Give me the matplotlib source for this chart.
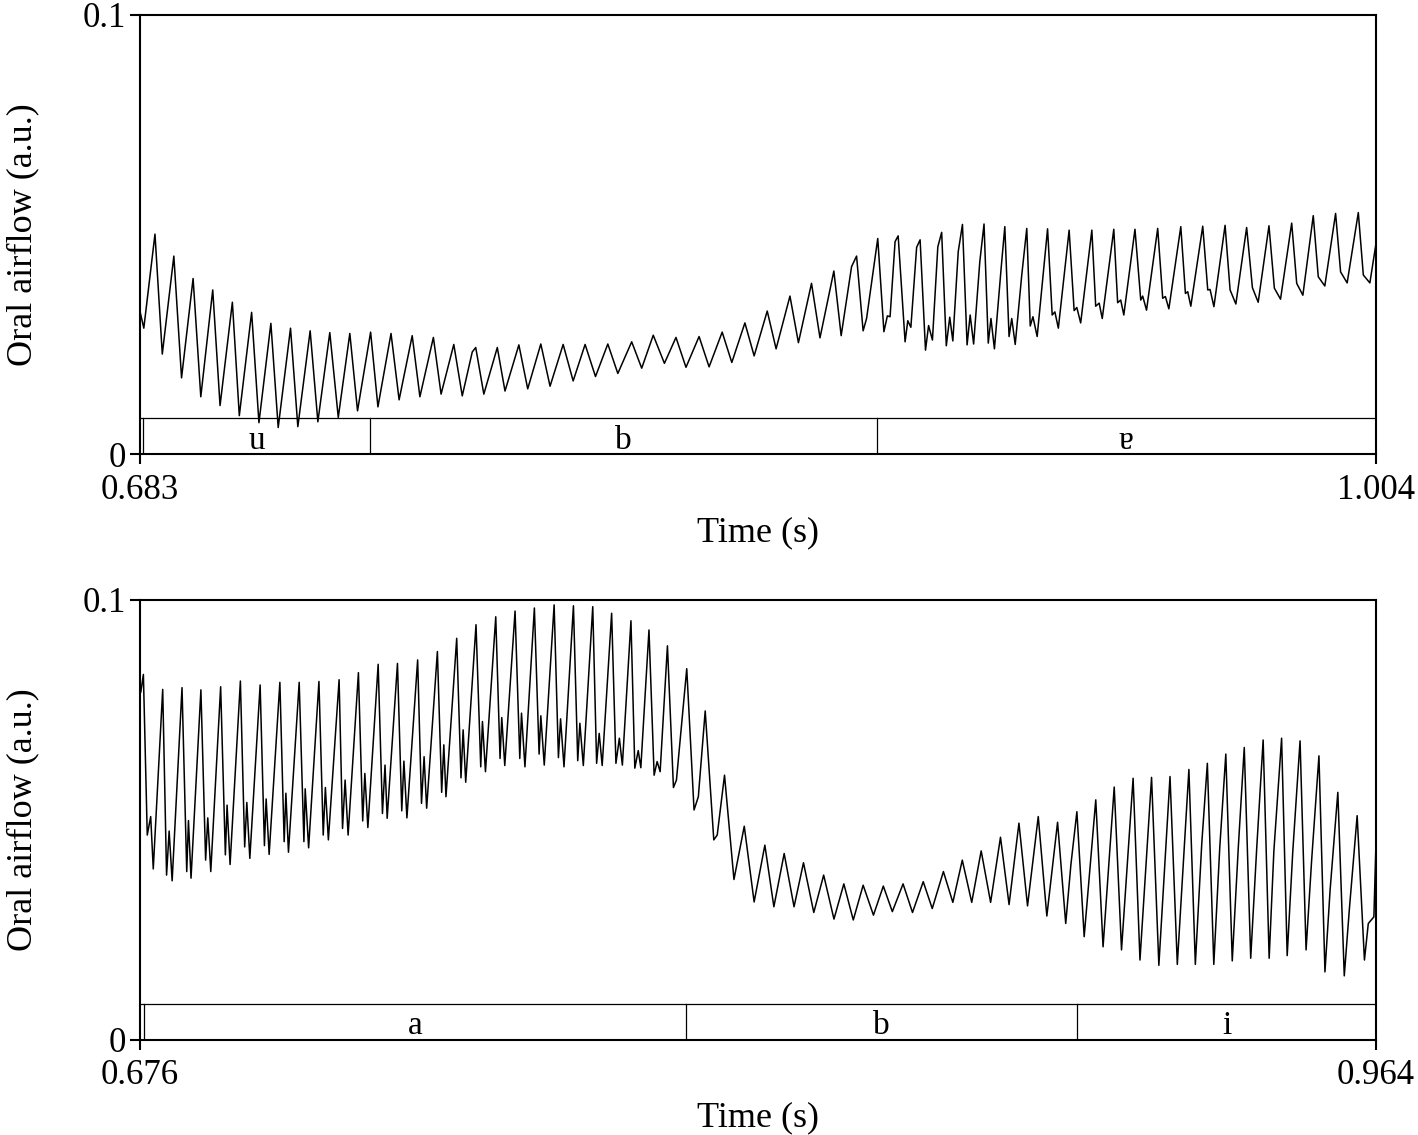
import numpy as np
import matplotlib.pyplot as plt

# digitised airflow traces: (time in ms, oral airflow in 1/1000 a.u.)
# peaks, troughs and the small bumps between them
top_trace = [
    (683.1, 32.2), (684.0, 28.7), (686.9, 50.1), (688.8, 22.8), (691.8, 45.1), (693.8, 17.4),
    (696.8, 40.0), (698.8, 13.1), (701.9, 37.4), (703.8, 11.1), (707.0, 34.6), (708.8, 8.8),
    (712.0, 32.3), (713.9, 7.2), (717.0, 29.8), (718.9, 6.1), (722.1, 28.7), (724.0, 6.3),
    (727.2, 28.1), (729.2, 7.4), (732.3, 27.7), (734.5, 8.4), (737.5, 27.5), (739.5, 9.9),
    (742.9, 27.8), (744.8, 10.8), (748.2, 27.5), (750.3, 12.4), (753.7, 27.0), (755.7, 13.1),
    (759.2, 26.6), (761.2, 13.7), (764.5, 25.0), (766.7, 13.3), (769.3, 23.3), (770.2, 24.3),
    (772.3, 13.7), (775.8, 24.3), (777.8, 14.4), (781.4, 24.9), (783.7, 14.9), (787.1, 25.1),
    (789.5, 15.5), (792.9, 25.0), (795.5, 16.7), (798.6, 25.0), (801.3, 17.7), (804.5, 25.1),
    (807.1, 18.4), (810.7, 25.6), (813.3, 19.6), (816.3, 27.1), (819.2, 20.7), (822.2, 26.6),
    (824.8, 19.8), (828.2, 26.8), (830.8, 19.9), (834.2, 27.8), (836.7, 20.9), (840.1, 29.9),
    (842.5, 22.4), (845.9, 32.6), (848.2, 24.0), (851.8, 36.0), (854.0, 25.4), (857.4, 38.9),
    (859.6, 26.5), (863.2, 41.7), (865.1, 27.0), (867.8, 42.7), (869.1, 45.1), (870.8, 28.1),
    (871.7, 30.9), (874.6, 49.1),
    (876.2, 27.9), (877.1, 31.5), (877.8, 31.3), (879.1, 48.4), (879.9, 49.7),
    (881.7, 25.6), (882.4, 30.4), (883.2, 28.9), (884.7, 47.1), (885.6, 48.8),
    (887.0, 23.7), (887.8, 29.3), (888.8, 26.0), (890.2, 47.2), (891.2, 50.5),
    (892.4, 24.7), (893.3, 31.2), (894.1, 25.8), (895.5, 46.1), (896.6, 52.3),
    (897.8, 24.9), (898.6, 31.7), (899.5, 25.1), (901.1, 43.8), (902.2, 52.4),
    (903.3, 25.3), (904.0, 30.9), (904.9, 24.0), (906.6, 41.9), (907.6, 51.8),
    (908.7, 26.8), (909.4, 30.9), (910.3, 25.0), (912.0, 40.8), (913.3, 51.4),
    (914.2, 29.2), (914.9, 31.3), (916.0, 26.8), (918.7, 51.3),
    (919.9, 31.7), (920.6, 32.4), (921.5, 28.7), (924.3, 51.0),
    (925.6, 32.7), (926.3, 33.4), (927.3, 29.9), (930.2, 51.0),
    (931.2, 33.7), (932.1, 34.4), (932.9, 30.9), (935.9, 51.2),
    (936.9, 34.5), (937.7, 35.1), (938.5, 31.7), (941.4, 51.2),
    (942.9, 35.1), (943.4, 36.0), (944.4, 32.8), (947.3, 51.4),
    (948.6, 35.5), (949.3, 35.9), (950.2, 33.1), (953.3, 51.8),
    (954.5, 36.6), (955.1, 37.0), (955.9, 33.7), (959.0, 51.9),
    (960.3, 37.4), (960.9, 37.5), (961.9, 33.6), (964.8, 52.1),
    (966.1, 37.4), (967.6, 34.2), (970.4, 51.6),
    (971.9, 37.9), (973.4, 34.6), (976.2, 52.0),
    (977.6, 37.8), (979.2, 35.3), (982.1, 52.6),
    (983.4, 38.9), (985.0, 36.2), (987.7, 54.3),
    (989.0, 40.4), (990.7, 38.3), (993.5, 54.8),
    (994.8, 41.5), (996.5, 39.0), (999.4, 55.0),
    (1000.7, 40.8), (1002.4, 39.0), (1004.0, 48.0),
]

bottom_trace = [
    (676.2, 79.0), (676.8, 83.0), (677.7, 46.5), (678.5, 50.7), (679.1, 38.8), (681.3, 79.6),
    (682.2, 37.4), (682.8, 47.4), (683.5, 36.1), (685.8, 80.0),
    (686.9, 38.2), (687.3, 49.8), (687.9, 36.7), (690.2, 79.5),
    (691.3, 40.8), (691.8, 50.4), (692.5, 38.2), (694.8, 80.2),
    (695.9, 42.0), (696.3, 53.3), (697.0, 39.8), (699.4, 81.5),
    (700.4, 43.8), (700.9, 53.9), (701.6, 41.2), (704.0, 80.6),
    (705.0, 44.1), (705.4, 54.7), (706.1, 42.1), (708.6, 81.2),
    (709.6, 45.0), (710.0, 56.0), (710.6, 42.6), (713.1, 81.2),
    (714.2, 45.0), (714.5, 57.0), (715.3, 43.6), (717.7, 81.4),
    (718.7, 46.5), (719.2, 57.3), (719.9, 45.4), (722.4, 81.8),
    (723.2, 48.0), (723.8, 59.0), (724.5, 46.5), (726.9, 83.4),
    (727.9, 49.7), (728.4, 60.5), (729.1, 48.2), (731.5, 85.3),
    (732.5, 51.4), (733.1, 62.4), (733.6, 50.3), (736.0, 85.5),
    (737.0, 52.0), (737.5, 63.3), (738.2, 50.4), (740.7, 86.3),
    (741.6, 53.7), (742.2, 64.3), (742.8, 52.6), (745.3, 88.2),
    (746.3, 56.2), (746.8, 67.0), (747.3, 55.2), (749.8, 91.2),
    (750.8, 59.5), (751.3, 70.4), (751.9, 58.5), (754.3, 94.3),
    (755.4, 62.0), (755.8, 72.3), (756.5, 60.9), (758.9, 96.1),
    (759.9, 63.9), (760.3, 73.2), (761.0, 62.3), (763.4, 97.4),
    (764.5, 63.9), (764.9, 74.2), (765.7, 62.0), (767.9, 98.1),
    (769.0, 64.9), (769.4, 73.6), (770.2, 62.4), (772.5, 98.8),
    (773.5, 64.1), (774.0, 72.9), (774.8, 62.0), (777.0, 98.6),
    (778.0, 63.4), (778.5, 71.9), (779.3, 62.3), (781.5, 98.4),
    (782.4, 62.8), (783.0, 69.6), (783.7, 62.3), (785.9, 96.9),
    (786.9, 62.8), (787.7, 68.5), (788.4, 62.4), (790.4, 95.2),
    (791.3, 61.7), (792.1, 65.7), (792.7, 61.8), (794.6, 93.1),
    (795.8, 60.1), (796.5, 63.2), (797.2, 60.9), (798.9, 89.5),
    (800.3, 57.3), (801.0, 59.0), (803.4, 84.3),
    (805.1, 52.2), (806.1, 55.2), (807.7, 74.7),
    (809.7, 45.4), (810.5, 46.5), (812.2, 60.1),
    (814.4, 36.4), (816.8, 48.5), (819.1, 31.3), (821.6, 44.2), (823.7, 30.2), (826.1, 42.3),
    (828.4, 30.2), (830.6, 40.2), (833.0, 28.9), (835.3, 37.4), (837.7, 27.4), (840.0, 35.4),
    (842.2, 27.2), (844.5, 35.1), (846.9, 28.3), (849.2, 34.9), (851.3, 29.1), (853.8, 35.4),
    (856.0, 28.9), (858.5, 35.9), (860.6, 29.8), (863.2, 38.2), (865.4, 31.2), (867.6, 40.8),
    (869.8, 31.2), (872.0, 42.9), (874.2, 31.2), (876.5, 46.0), (878.5, 30.7), (880.8, 49.2),
    (882.8, 30.4), (885.3, 50.7), (887.3, 28.1), (889.8, 49.4), (891.7, 26.4), (892.9, 39.7),
    (894.3, 51.8), (896.0, 23.4), (898.7, 54.5), (900.4, 21.1), (903.0, 57.4), (904.7, 20.4),
    (907.4, 59.4), (909.0, 18.1), (911.7, 59.6), (913.4, 16.9), (916.0, 59.8), (917.7, 17.1),
    (920.4, 61.4), (921.9, 17.1), (923.4, 44.6), (924.7, 62.8),
    (926.2, 17.1), (927.6, 43.8), (929.0, 64.9),
    (930.5, 17.9), (931.9, 43.5), (933.3, 66.4),
    (934.8, 18.5), (936.2, 43.5), (937.7, 68.1),
    (939.1, 18.5), (940.2, 42.9), (942.0, 68.5),
    (943.3, 19.1), (944.6, 42.7), (946.3, 67.9),
    (947.7, 20.4), (949.0, 40.8), (950.7, 64.5),
    (952.1, 15.4), (953.3, 34.0), (955.1, 56.2),
    (956.6, 14.5), (957.8, 29.8), (959.6, 50.9),
    (961.3, 18.1), (962.2, 26.4), (963.5, 27.9), (964.0, 45.0),
]

top_xlim = (0.683, 1.004)
bottom_xlim = (0.676, 0.964)

# segment boundaries (s) and labels of the annotation tier
top_bounds = [0.6838, 0.7427, 0.8743]
top_labels = ['u', 'b', 'ɐ']
bottom_bounds = [0.6769, 0.8032, 0.8943]
bottom_labels = ['a', 'b', 'i']
tier_top = 0.0082

plt.rcParams['font.family'] = ['Liberation Serif', 'DejaVu Serif']


def draw_panel(ax, trace, xlim, bounds, labels):
    tr = np.array(trace)
    ax.plot(tr[:, 0] / 1000, tr[:, 1] / 1000, color='black', lw=1.1,
            solid_joinstyle='round')
    ax.set_xlim(*xlim)
    ax.set_ylim(0, 0.1)

    # annotation tier along the bottom
    ax.plot(xlim, [tier_top, tier_top], color='black', lw=0.9)
    for b in bounds:
        ax.plot([b, b], [0, tier_top], color='black', lw=0.9)
    edges = bounds + [xlim[1]]
    for i in range(len(labels)):
        ax.text((edges[i] + edges[i + 1]) / 2, 0.0012, labels[i],
                ha='center', va='baseline', fontsize=24)

    ax.set_xticks(list(xlim))
    ax.set_xticklabels(['%.3f' % v for v in xlim])
    ax.set_yticks([0, 0.1])
    ax.set_yticklabels(['0', '0.1'])
    ax.tick_params(direction='out', length=7, width=1.5, labelsize=25)
    ax.tick_params(axis='x', pad=7)
    ax.tick_params(axis='y', pad=3)
    for s in ax.spines.values():
        s.set_linewidth(1.5)

    ax.set_xlabel('Time (s)', fontsize=26)
    ax.xaxis.set_label_coords(0.5, -0.14)
    ax.set_ylabel('Oral airflow (a.u.)', fontsize=26)
    ax.yaxis.set_label_coords(-0.0813, 0.5)


fig = plt.figure(figsize=(14.18, 11.35), dpi=100)
ax1 = fig.add_axes([0.0987, 0.5997, 0.8717, 0.3873])
ax2 = fig.add_axes([0.0987, 0.0840, 0.8717, 0.3877])

draw_panel(ax1, top_trace, top_xlim, top_bounds, top_labels)
draw_panel(ax2, bottom_trace, bottom_xlim, bottom_bounds, bottom_labels)

fig.savefig('out.png', dpi=100)
